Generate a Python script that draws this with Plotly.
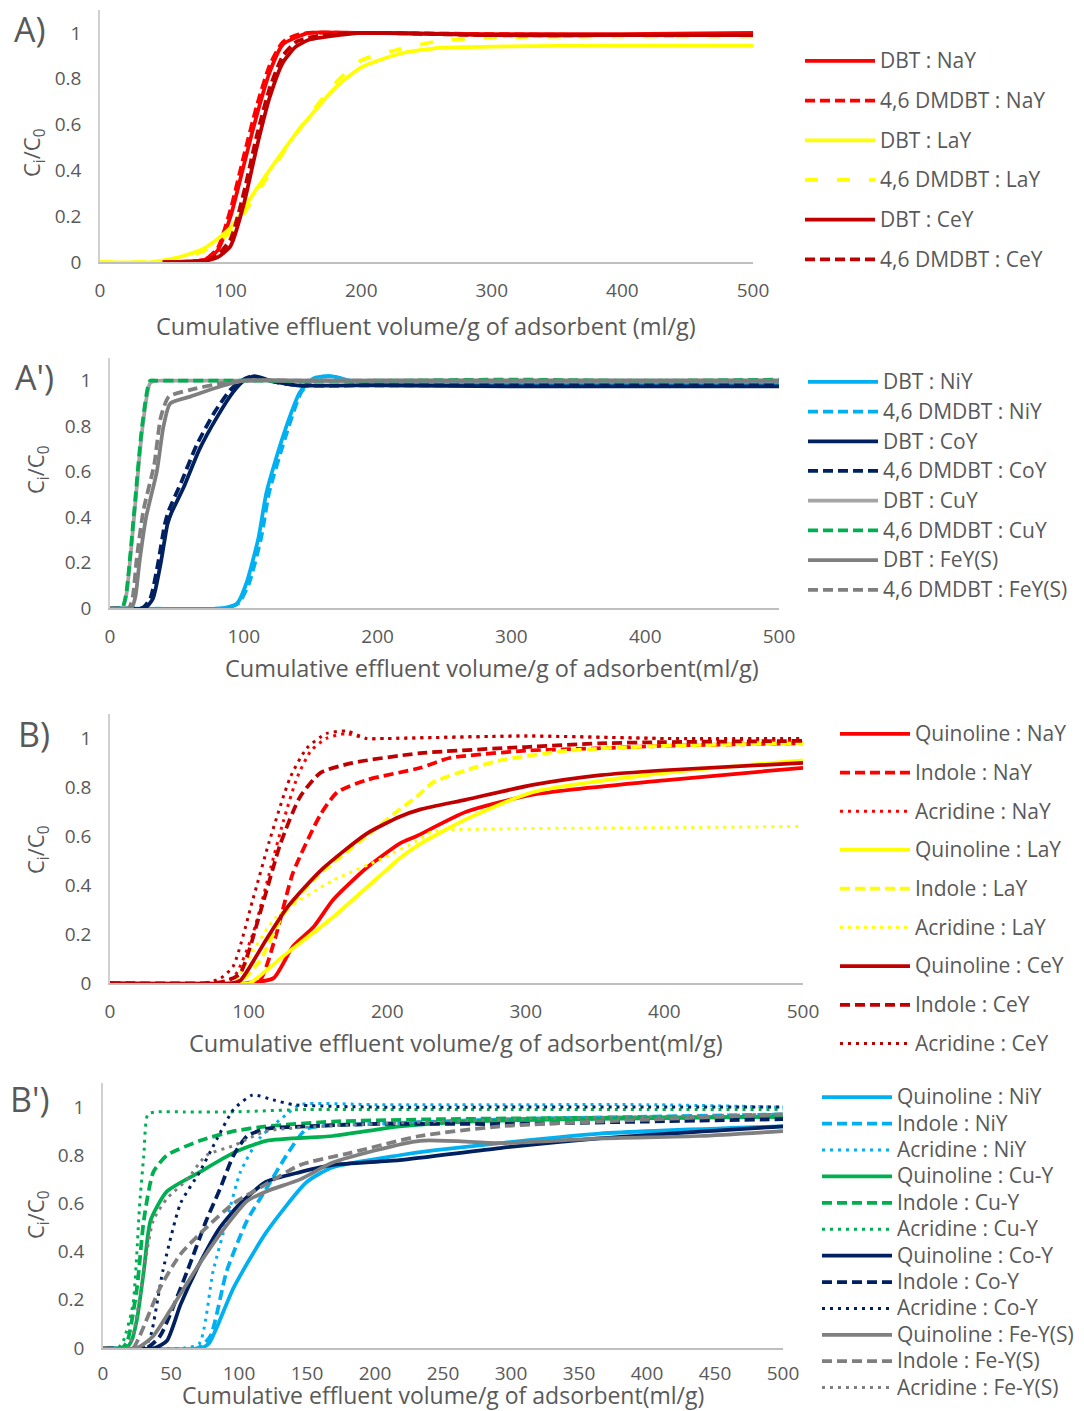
import plotly.graph_objects as go

W, H = 1084, 1411
FONT = "Open Sans"
TXT = "#595959"

RED = "#ff0000"; YEL = "#ffff00"; DRED = "#c00000"
LBLUE = "#00b0f0"; NAVY = "#002060"; GREEN = "#00b050"
LGRAY = "#a5a5a5"; GRAY = "#7f7f7f"

# ---------------- Panel A ----------------
a_dbt_nay_x = [48, 80, 90, 100, 110, 120, 130, 140, 150, 160, 200, 300, 400, 500]
a_dbt_nay_y = [0, 0.01, 0.05, 0.2, 0.42, 0.64, 0.83, 0.95, 0.98, 1.0, 1.0, 0.995, 0.995, 1.0]
a_dmdbt_nay_x = [48, 80, 90, 100, 110, 120, 130, 140, 150, 160, 200, 300, 400, 500]
a_dmdbt_nay_y = [0, 0.01, 0.06, 0.23, 0.46, 0.68, 0.86, 0.96, 0.99, 1.0, 1.0, 0.995, 0.99, 0.99]
a_dbt_lay_x = [0, 40, 60, 80, 100, 120, 150, 180, 200, 230, 260, 300, 400, 500]
a_dbt_lay_y = [0, 0, 0.02, 0.06, 0.15, 0.32, 0.56, 0.76, 0.85, 0.91, 0.935, 0.94, 0.945, 0.945]
a_dmdbt_lay_x = [0, 40, 60, 80, 100, 120, 150, 180, 200, 230, 260, 300, 400, 500]
a_dmdbt_lay_y = [0, 0, 0.015, 0.05, 0.13, 0.3, 0.56, 0.78, 0.88, 0.93, 0.965, 0.98, 0.985, 0.985]
a_dbt_cey_x = [48, 80, 90, 100, 110, 120, 130, 140, 150, 160, 170, 200, 300, 400, 500]
a_dbt_cey_y = [0, 0.005, 0.02, 0.07, 0.25, 0.5, 0.72, 0.87, 0.94, 0.97, 0.98, 1.0, 0.99, 0.99, 0.99]
a_dmdbt_cey_x = [48, 80, 90, 100, 110, 120, 130, 140, 150, 160, 170, 200, 300, 400, 500]
a_dmdbt_cey_y = [0, 0.005, 0.03, 0.1, 0.3, 0.55, 0.76, 0.9, 0.96, 0.98, 0.99, 1.0, 0.99, 0.99, 0.99]

# ---------------- Panel A' ----------------
ap_dbt_niy_x = [0, 85, 95, 102, 111, 117, 129, 142, 152, 165, 180, 200, 300, 400, 500]
ap_dbt_niy_y = [0, 0, 0.02, 0.11, 0.31, 0.51, 0.75, 0.95, 1.01, 1.02, 1.0, 0.99, 0.99, 0.99, 0.99]
ap_dmdbt_niy_x = [0, 86, 96, 104, 113, 119, 131, 143, 153, 165, 180, 200, 300, 400, 500]
ap_dmdbt_niy_y = [0, 0, 0.02, 0.11, 0.31, 0.51, 0.75, 0.95, 1.01, 1.02, 1.0, 0.99, 0.99, 0.99, 0.99]
ap_dbt_coy_x = [0, 26, 32, 38, 43, 46, 55, 67, 80, 92, 100, 108, 120, 140, 200, 300, 400, 500]
ap_dbt_coy_y = [0, 0, 0.04, 0.2, 0.37, 0.42, 0.53, 0.70, 0.84, 0.95, 1.0, 1.02, 1.0, 0.98, 0.98, 0.975, 0.975, 0.975]
ap_dmdbt_coy_x = [0, 24, 30, 36, 41, 44, 53, 65, 78, 90, 98, 106, 118, 140, 200, 300, 400, 500]
ap_dmdbt_coy_y = [0, 0, 0.04, 0.2, 0.37, 0.43, 0.55, 0.72, 0.86, 0.96, 1.0, 1.02, 1.0, 0.98, 0.98, 0.98, 0.98, 0.98]
ap_dbt_cuy_x = [0, 9, 12, 18, 24, 30, 35, 50, 100, 200, 300, 400, 500]
ap_dbt_cuy_y = [0, 0, 0.05, 0.4, 0.78, 0.99, 1.0, 1.0, 1.0, 1.0, 1.0, 1.0, 1.0]
ap_dmdbt_cuy_x = [0, 9, 12, 18, 24, 30, 35, 50, 100, 200, 300, 400, 500]
ap_dmdbt_cuy_y = [0, 0, 0.06, 0.42, 0.8, 1.0, 1.0, 1.0, 1.0, 1.0, 1.005, 1.0, 1.005]
ap_dbt_fey_x = [0, 16, 19, 22, 27, 35, 40, 45, 60, 80, 100, 150, 200, 300, 400, 500]
ap_dbt_fey_y = [0, 0, 0.05, 0.2, 0.4, 0.6, 0.8, 0.9, 0.93, 0.97, 1.0, 1.0, 1.0, 1.0, 1.0, 1.0]
ap_dmdbt_fey_x = [0, 14, 17, 20, 25, 33, 38, 44, 60, 80, 100, 150, 200, 300, 400, 500]
ap_dmdbt_fey_y = [0, 0, 0.05, 0.22, 0.43, 0.63, 0.84, 0.93, 0.96, 0.985, 1.0, 1.0, 1.0, 1.0, 1.0, 1.0]

# ---------------- Panel B ----------------
b_quin_nay_x = [0, 100, 118, 132, 147, 161, 185, 209, 221, 257, 305, 402, 500]
b_quin_nay_y = [0, 0, 0.02, 0.15, 0.23, 0.34, 0.47, 0.57, 0.60, 0.70, 0.77, 0.83, 0.88]
b_ind_nay_x = [0, 95, 108, 120, 132, 152, 164, 185, 224, 245, 300, 354, 400, 500]
b_ind_nay_y = [0, 0, 0.01, 0.2, 0.45, 0.69, 0.78, 0.83, 0.88, 0.92, 0.95, 0.96, 0.97, 0.98]
b_acr_nay_x = [0, 78, 90, 103, 115, 125, 135, 145, 156, 170, 185, 200, 300, 400, 500]
b_acr_nay_y = [0, 0, 0.03, 0.2, 0.45, 0.66, 0.84, 0.95, 1.0, 1.02, 1.0, 1.0, 1.01, 1.0, 0.99]
b_quin_lay_x = [0, 95, 101, 125, 161, 197, 209, 224, 257, 305, 402, 500]
b_quin_lay_y = [0, 0, 0.0, 0.11, 0.27, 0.45, 0.51, 0.57, 0.67, 0.78, 0.86, 0.91]
b_ind_lay_x = [0, 92, 108, 125, 152, 185, 209, 221, 233, 257, 281, 330, 400, 500]
b_ind_lay_y = [0, 0, 0.09, 0.28, 0.45, 0.60, 0.71, 0.76, 0.82, 0.87, 0.91, 0.95, 0.97, 0.98]
b_acr_lay_x = [0, 88, 103, 120, 161, 197, 221, 233, 281, 400, 500]
b_acr_lay_y = [0, 0, 0.13, 0.27, 0.42, 0.51, 0.58, 0.62, 0.63, 0.635, 0.64]
b_quin_cey_x = [0, 88, 94, 113, 128, 152, 185, 209, 224, 257, 305, 354, 400, 500]
b_quin_cey_y = [0, 0, 0.01, 0.18, 0.31, 0.46, 0.61, 0.68, 0.71, 0.75, 0.81, 0.85, 0.87, 0.90]
b_ind_cey_x = [0, 75, 85, 94, 111, 123, 137, 152, 175, 224, 300, 353, 400, 500]
b_ind_cey_y = [0, 0, 0.01, 0.04, 0.34, 0.57, 0.76, 0.86, 0.90, 0.94, 0.965, 0.98, 0.985, 0.99]
b_acr_cey_x = [0, 68, 80, 89, 103, 115, 130, 142, 156, 171, 185, 200, 300, 400, 500]
b_acr_cey_y = [0, 0, 0.02, 0.07, 0.34, 0.58, 0.84, 0.96, 1.02, 1.03, 1.0, 1.0, 1.01, 1.0, 1.0]

# ---------------- Panel B' ----------------
bp_quin_niy_x = [0, 72, 78, 96, 120, 150, 169, 218, 243, 292, 365, 500]
bp_quin_niy_y = [0, 0, 0.02, 0.25, 0.48, 0.69, 0.75, 0.80, 0.82, 0.85, 0.89, 0.92]
bp_ind_niy_x = [0, 70, 79, 91, 106, 120, 135, 150, 200, 300, 400, 500]
bp_ind_niy_y = [0, 0, 0.05, 0.32, 0.53, 0.66, 0.80, 0.91, 0.93, 0.95, 0.96, 0.97]
bp_acr_niy_x = [0, 60, 71, 81, 91, 101, 115, 135, 145, 200, 300, 400, 500]
bp_acr_niy_y = [0, 0, 0.02, 0.32, 0.53, 0.73, 0.87, 0.97, 1.01, 1.01, 1.01, 1.01, 1.0]
bp_quin_cuy_x = [0, 17, 21, 25, 30, 35, 47, 71, 96, 120, 169, 218, 268, 350, 500]
bp_quin_cuy_y = [0, 0, 0.03, 0.12, 0.32, 0.53, 0.65, 0.73, 0.81, 0.86, 0.88, 0.92, 0.94, 0.95, 0.96]
bp_ind_cuy_x = [0, 14, 18, 25, 30, 37, 47, 71, 96, 120, 169, 250, 350, 500]
bp_ind_cuy_y = [0, 0, 0.03, 0.25, 0.53, 0.73, 0.80, 0.86, 0.90, 0.92, 0.94, 0.95, 0.955, 0.96]
bp_acr_cuy_x = [0, 11, 15, 22, 27, 30, 33, 40, 60, 93, 150, 200, 300, 400, 500]
bp_acr_cuy_y = [0, 0, 0.03, 0.18, 0.6, 0.8, 0.97, 0.98, 0.98, 0.98, 0.99, 0.99, 0.99, 0.99, 0.99]
bp_quin_coy_x = [0, 38, 47, 57, 71, 86, 101, 120, 145, 169, 218, 292, 365, 500]
bp_quin_coy_y = [0, 0, 0.03, 0.18, 0.35, 0.5, 0.6, 0.69, 0.73, 0.76, 0.78, 0.83, 0.87, 0.92]
bp_ind_coy_x = [0, 32, 42, 62, 76, 86, 96, 106, 120, 150, 200, 300, 400, 500]
bp_ind_coy_y = [0, 0, 0.05, 0.32, 0.53, 0.66, 0.8, 0.88, 0.91, 0.92, 0.93, 0.93, 0.94, 0.95]
bp_acr_coy_x = [0, 30, 35, 44, 57, 71, 84, 96, 110, 125, 140, 200, 300, 400, 500]
bp_acr_coy_y = [0, 0, 0.05, 0.32, 0.6, 0.73, 0.87, 0.99, 1.05, 1.03, 1.01, 1.0, 1.0, 1.0, 1.0]
bp_quin_fey_x = [0, 25, 37, 52, 71, 91, 106, 120, 145, 169, 233, 292, 365, 439, 500]
bp_quin_fey_y = [0, 0, 0.05, 0.18, 0.35, 0.51, 0.61, 0.65, 0.70, 0.77, 0.86, 0.85, 0.87, 0.88, 0.90]
bp_ind_fey_x = [0, 22, 27, 42, 57, 76, 96, 120, 145, 182, 233, 292, 365, 500]
bp_ind_fey_y = [0, 0, 0.05, 0.25, 0.39, 0.5, 0.6, 0.68, 0.76, 0.81, 0.88, 0.92, 0.94, 0.97]
bp_acr_fey_x = [0, 18, 22, 30, 37, 47, 62, 76, 96, 120, 200, 300, 400, 500]
bp_acr_fey_y = [0, 0, 0.05, 0.32, 0.53, 0.62, 0.70, 0.80, 0.84, 0.90, 0.93, 0.95, 0.96, 0.97]

x_ticks_main = [0, 100, 200, 300, 400, 500]
x_ticks_bp = [0, 50, 100, 150, 200, 250, 300, 350, 400, 450, 500]
y_ticks = [0, 0.2, 0.4, 0.6, 0.8, 1]
y_ticktext = ["0", "0.2", "0.4", "0.6", "0.8", "1"]

DASH = "10px,5px"
LDASH = "13px,19px"
DOT = "3px,5px"
LW = 3.75
LEG_TXT = 21  # rendered legend text size (px)

fig = go.Figure()

def add(name, xs, ys, color, dash, width, k, leg):
    sfx = "" if k == 1 else str(k)
    fig.add_trace(go.Scatter(
        x=xs, y=ys, mode="lines",
        name='<span style="font-size:%dpx">%s</span>' % (LEG_TXT, name),
        line=dict(color=color, dash=dash, width=width, shape="spline", smoothing=0.6),
        xaxis="x" + sfx, yaxis="y" + sfx, legend=leg, legendgroup=name + leg,
        hoverinfo="skip"))

# Panel A
add("DBT : NaY", a_dbt_nay_x, a_dbt_nay_y, RED, "solid", LW, 1, "legend")
add("4,6 DMDBT : NaY", a_dmdbt_nay_x, a_dmdbt_nay_y, RED, DASH, LW, 1, "legend")
add("DBT : LaY", a_dbt_lay_x, a_dbt_lay_y, YEL, "solid", LW, 1, "legend")
add("4,6 DMDBT : LaY", a_dmdbt_lay_x, a_dmdbt_lay_y, YEL, LDASH, LW, 1, "legend")
add("DBT : CeY", a_dbt_cey_x, a_dbt_cey_y, DRED, "solid", LW, 1, "legend")
add("4,6 DMDBT : CeY", a_dmdbt_cey_x, a_dmdbt_cey_y, DRED, DASH, LW, 1, "legend")
# Panel A'
add("DBT : NiY", ap_dbt_niy_x, ap_dbt_niy_y, LBLUE, "solid", LW, 2, "legend2")
add("4,6 DMDBT : NiY", ap_dmdbt_niy_x, ap_dmdbt_niy_y, LBLUE, DASH, LW, 2, "legend2")
add("DBT : CoY", ap_dbt_coy_x, ap_dbt_coy_y, NAVY, "solid", LW, 2, "legend2")
add("4,6 DMDBT : CoY", ap_dmdbt_coy_x, ap_dmdbt_coy_y, NAVY, DASH, LW, 2, "legend2")
add("DBT : CuY", ap_dbt_cuy_x, ap_dbt_cuy_y, LGRAY, "solid", LW, 2, "legend2")
add("4,6 DMDBT : CuY", ap_dmdbt_cuy_x, ap_dmdbt_cuy_y, GREEN, DASH, LW, 2, "legend2")
add("DBT : FeY(S)", ap_dbt_fey_x, ap_dbt_fey_y, GRAY, "solid", LW, 2, "legend2")
add("4,6 DMDBT : FeY(S)", ap_dmdbt_fey_x, ap_dmdbt_fey_y, GRAY, DASH, LW, 2, "legend2")
# Panel B
add("Quinoline : NaY", b_quin_nay_x, b_quin_nay_y, RED, "solid", LW, 3, "legend3")
add("Indole : NaY", b_ind_nay_x, b_ind_nay_y, RED, DASH, LW, 3, "legend3")
add("Acridine : NaY", b_acr_nay_x, b_acr_nay_y, RED, DOT, 3, 3, "legend3")
add("Quinoline : LaY", b_quin_lay_x, b_quin_lay_y, YEL, "solid", LW, 3, "legend3")
add("Indole : LaY", b_ind_lay_x, b_ind_lay_y, YEL, DASH, LW, 3, "legend3")
add("Acridine : LaY", b_acr_lay_x, b_acr_lay_y, YEL, DOT, 3, 3, "legend3")
add("Quinoline : CeY", b_quin_cey_x, b_quin_cey_y, DRED, "solid", LW, 3, "legend3")
add("Indole : CeY", b_ind_cey_x, b_ind_cey_y, DRED, DASH, LW, 3, "legend3")
add("Acridine : CeY", b_acr_cey_x, b_acr_cey_y, DRED, DOT, 3, 3, "legend3")
# Panel B'
add("Quinoline : NiY", bp_quin_niy_x, bp_quin_niy_y, LBLUE, "solid", LW, 4, "legend4")
add("Indole : NiY", bp_ind_niy_x, bp_ind_niy_y, LBLUE, DASH, LW, 4, "legend4")
add("Acridine : NiY", bp_acr_niy_x, bp_acr_niy_y, LBLUE, DOT, 3, 4, "legend4")
add("Quinoline : Cu-Y", bp_quin_cuy_x, bp_quin_cuy_y, GREEN, "solid", LW, 4, "legend4")
add("Indole : Cu-Y", bp_ind_cuy_x, bp_ind_cuy_y, GREEN, DASH, LW, 4, "legend4")
add("Acridine : Cu-Y", bp_acr_cuy_x, bp_acr_cuy_y, GREEN, DOT, 3, 4, "legend4")
add("Quinoline : Co-Y", bp_quin_coy_x, bp_quin_coy_y, NAVY, "solid", LW, 4, "legend4")
add("Indole : Co-Y", bp_ind_coy_x, bp_ind_coy_y, NAVY, DASH, LW, 4, "legend4")
add("Acridine : Co-Y", bp_acr_coy_x, bp_acr_coy_y, NAVY, DOT, 3, 4, "legend4")
add("Quinoline : Fe-Y(S)", bp_quin_fey_x, bp_quin_fey_y, GRAY, "solid", LW, 4, "legend4")
add("Indole : Fe-Y(S)", bp_ind_fey_x, bp_ind_fey_y, GRAY, DASH, LW, 4, "legend4")
add("Acridine : Fe-Y(S)", bp_acr_fey_x, bp_acr_fey_y, GRAY, DOT, 3, 4, "legend4")

# panel pixel geometry: (x0px, x500px, ytop_px, y0_px)
panels = [
    (100, 753, 10, 262),
    (110, 779, 358, 608),
    (110, 803, 714, 983),
    (103, 783, 1083, 1348),
]

def xdom(a, b):
    return [a / W, b / W]

def ydom(top, bot):
    return [(H - bot) / H, (H - top) / H]

layout = dict(width=W, height=H,
              margin=dict(l=0, r=0, t=0, b=0, pad=0, autoexpand=False),
              paper_bgcolor="white", plot_bgcolor="white",
              font=dict(family=FONT, color=TXT), showlegend=True)

for i, (x0, x1, yt, yb) in enumerate(panels, start=1):
    sfx = "" if i == 1 else str(i)
    layout["xaxis" + sfx] = dict(
        domain=xdom(x0, x1), range=[0, 500], anchor="y" + sfx,
        tickvals=x_ticks_bp if i == 4 else x_ticks_main,
        showline=True, linecolor="#bfbfbf", linewidth=1.5, showgrid=False,
        zeroline=False, ticks="", tickfont=dict(size=19, color=TXT, family=FONT),
        ticklabelstandoff=7 if i == 4 else 10, fixedrange=True, automargin=False)
    layout["yaxis" + sfx] = dict(
        domain=ydom(yt, yb), range=[0, 1.1], anchor="x" + sfx,
        tickvals=y_ticks, ticktext=y_ticktext,
        showline=True, linecolor="#d0d0d0", linewidth=1.5, showgrid=False,
        zeroline=False, ticks="", tickfont=dict(size=19, color=TXT, family=FONT),
        ticklabelstandoff=13, fixedrange=True, automargin=False)

def leg(xpx, ypx, gap, fs):
    return dict(x=xpx / W, y=1 - ypx / H, xanchor="left", yanchor="top",
                font=dict(family=FONT, size=fs, color=TXT),
                bgcolor="rgba(0,0,0,0)", borderwidth=0, itemwidth=70,
                tracegroupgap=gap, traceorder="grouped")

layout["legend"] = leg(800, 42, 12, 19)
layout["legend2"] = leg(803, 363, 2, 19)
layout["legend3"] = leg(835, 715, 11, 19)
layout["legend4"] = leg(817, 1079, 0, 18)

ann = []
titles = [
    ("Cumulative effluent volume/g of adsorbent (ml/g)", 426, 326, 23.5),
    ("Cumulative effluent volume/g of adsorbent(ml/g)", 492, 668, 23.5),
    ("Cumulative effluent volume/g of adsorbent(ml/g)", 456, 1043, 23.5),
    ("Cumulative effluent volume/g of adsorbent(ml/g)", 443, 1395, 23),
]
for t, cx, cy, fs in titles:
    ann.append(dict(text=t, x=cx / W, y=1 - cy / H, xref="paper", yref="paper",
                    showarrow=False, xanchor="center", yanchor="middle",
                    font=dict(size=fs, color=TXT, family=FONT)))
ytitles = [(33, 153), (37, 470), (37, 850), (37, 1215)]
for cx, cy in ytitles:
    ann.append(dict(text="C<sub>i</sub>/C<sub>0</sub>", x=cx / W, y=1 - cy / H,
                    xref="paper", yref="paper", showarrow=False, textangle=-90,
                    xanchor="center", yanchor="middle",
                    font=dict(size=22, color=TXT, family=FONT)))
labels = [("A)", 30, 29), ("A')", 34, 377), ("B)", 34, 734), ("B')", 29, 1099)]
for t, cx, cy in labels:
    ann.append(dict(text=t, x=cx / W, y=1 - cy / H, xref="paper", yref="paper",
                    showarrow=False, xanchor="center", yanchor="middle",
                    font=dict(size=34, color=TXT, family=FONT)))
layout["annotations"] = ann

fig.update_layout(**layout)
fig.write_html("out.html")
